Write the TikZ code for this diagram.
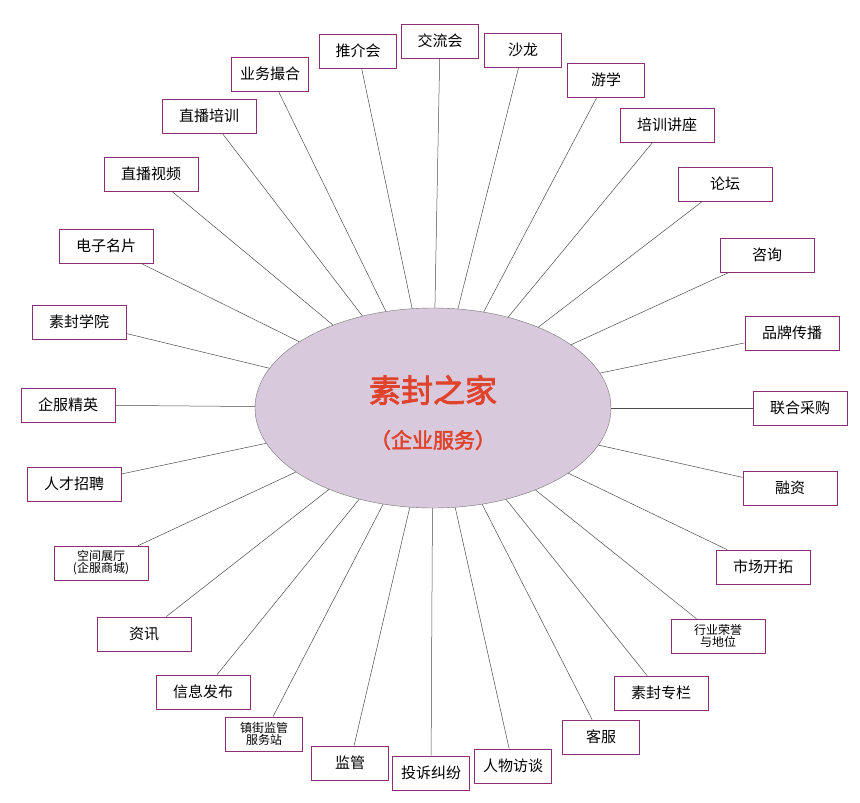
\documentclass[tikz,border=0pt]{standalone}
\usepackage{fontspec}
\setmainfont{Noto Sans CJK SC}
\newfontfamily\titlefont[AutoFakeBold=2.5]{Noto Sans CJK SC}
\usetikzlibrary{shapes.geometric}
\definecolor{boxline}{HTML}{8E2C74}
\definecolor{hubfill}{HTML}{D9C9DD}
\definecolor{titlered}{HTML}{E0432B}

\begin{document}
\begin{tikzpicture}[x=1pt, y=-1pt,
    item/.style={draw=boxline, line width=0.7pt, fill=white, minimum width=94pt, minimum height=34pt, inner sep=1pt, font=\fontsize{15}{17}\selectfont, align=center},
    narrow/.style={item, minimum width=77pt},
    itemsmall/.style={item, font=\fontsize{12}{12}\selectfont},
    narrowsmall/.style={narrow, font=\fontsize{12}{12}\selectfont},
    spoke/.style={draw=black!70, line width=0.5pt}]

    \useasboundingbox (0,0) rectangle (860,803);

    % hub
    \node at (433, 408) [ellipse, draw=black!55, fill=hubfill, minimum width=356pt, minimum height=200pt] (hub) {};
    \node at (433, 390) [text=titlered, font=\titlefont\fontsize{32}{34}\selectfont\bfseries] (title) {素封之家};
    \node at (433, 440) [text=titlered, font=\titlefont\fontsize{21}{23}\selectfont\bfseries] (sub) {（企业服务）};

    % services
    \foreach \i/\x/\y/\s/\t in {
        1/358/51/narrow/推介会, 2/440/41/narrow/交流会, 3/523/50/narrow/沙龙,
        4/606/80/narrow/游学, 5/667/125/item/培训讲座, 6/725/184/item/论坛,
        7/767/255/item/咨询, 8/792/333/item/品牌传播, 9/800/408/item/联合采购,
        10/790/488/item/融资, 11/763/567/item/市场开拓,
        12/718/636/itemsmall/{行业荣誉\\与地位},
        13/661/693/item/素封专栏, 14/601/737/narrow/客服, 15/513/766/narrow/人物访谈,
        16/431/773/narrow/投诉纠纷, 17/350/763/narrow/监管,
        18/264/734/narrowsmall/{镇街监管\\服务站},
        19/203/692/item/信息发布, 20/144/634/item/资讯,
        21/101/563/itemsmall/{空间展厅\\(企服商城)},
        22/74/484/item/人才招聘, 23/68/405/item/企服精英, 24/79/322/item/素封学院,
        25/106/246/item/电子名片, 26/151/174/item/直播视频, 27/209/116/item/直播培训,
        28/270/74/narrow/业务撮合} {
        \node at (\x, \y) [\s] (s\i) {\t};
        \draw[spoke] (s\i) -- (hub);
    }

\end{tikzpicture}
\end{document}
